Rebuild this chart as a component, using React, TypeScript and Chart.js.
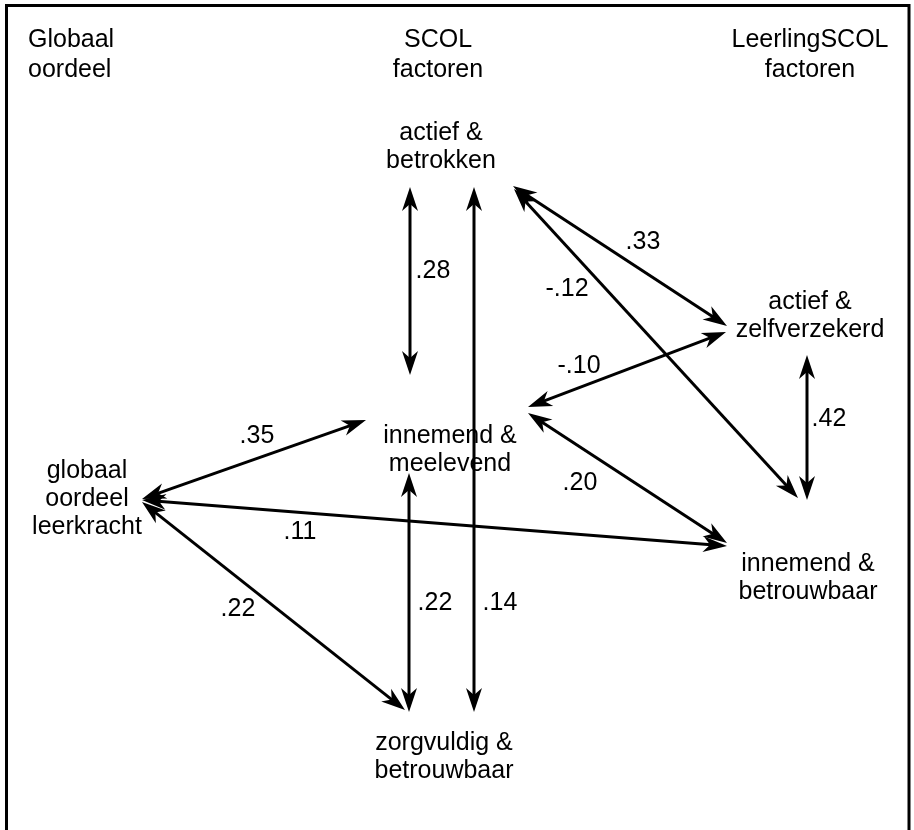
import React, { useEffect, useRef } from "react";
import { Chart, registerables } from "chart.js";

Chart.register(...registerables);

// Column headers
const headerLines: string[][] = [["Globaal", "oordeel"], ["SCOL", "factoren"], ["LeerlingSCOL", "factoren"]];
const headerX = [28, 438, 810];
const headerY = [40, 40, 40];
const headerAlign = ["left", "center", "center"];

// Nodes (factors)
const nodeLines: string[][] = [
  ["actief &", "betrokken"],
  ["actief &", "zelfverzekerd"],
  ["innemend &", "meelevend"],
  ["globaal", "oordeel", "leerkracht"],
  ["innemend &", "betrouwbaar"],
  ["zorgvuldig &", "betrouwbaar"],
];
const nodeX = [441, 810, 450, 87, 808, 444];
const nodeY = [133, 302, 436, 471, 564, 743];

// Correlation arrows (double headed)
const corrLabels = [".28", ".14", ".33", "-.12", "-.10", ".42", ".20", ".35", ".11", ".22", ".22"];
const arrowX1 = [410, 474, 513, 514, 528, 807, 528, 142, 142, 142, 409];
const arrowY1 = [187, 187, 186, 189, 407, 355, 413, 499, 500, 502, 473];
const arrowX2 = [410, 474, 727, 798, 726, 807, 727, 366, 727, 405, 409];
const arrowY2 = [375, 712, 326, 498, 332, 500, 543, 420, 546, 710, 712];
const labelX = [433, 500, 643, 567, 579, 829, 580, 257, 300, 238, 435];
const labelY = [271, 603, 242, 289, 366, 419, 483, 436, 532, 609, 603];

const FONT = '25px "Liberation Sans", Arial, sans-serif';
const LINE_H = 28;

function drawHead(ctx: CanvasRenderingContext2D, tx: number, ty: number, fx: number, fy: number) {
  const ang = Math.atan2(ty - fy, tx - fx);
  const L = 24, W = 8, N = 17;
  ctx.save();
  ctx.translate(tx, ty);
  ctx.rotate(ang);
  ctx.beginPath();
  ctx.moveTo(0, 0);
  ctx.lineTo(-L, -W);
  ctx.lineTo(-N, 0);
  ctx.lineTo(-L, W);
  ctx.closePath();
  ctx.fill();
  ctx.restore();
}

const diagramPlugin = {
  id: "diagram",
  afterDraw(chart: any) {
    const ctx: CanvasRenderingContext2D = chart.ctx;
    const xs = chart.scales.x;
    const ys = chart.scales.y;
    const px = (v: number) => xs.getPixelForValue(v);
    const py = (v: number) => ys.getPixelForValue(v);
    ctx.save();
    // frame
    ctx.strokeStyle = "#000";
    ctx.lineWidth = 3;
    ctx.strokeRect(px(6.5), py(5.5), px(909) - px(6.5), py(845) - py(5.5));

    // arrows
    ctx.fillStyle = "#000";
    ctx.lineWidth = 3;
    ctx.lineCap = "butt";
    for (let i = 0; i < corrLabels.length; i++) {
      const x1 = px(arrowX1[i]), y1 = py(arrowY1[i]);
      const x2 = px(arrowX2[i]), y2 = py(arrowY2[i]);
      const len = Math.hypot(x2 - x1, y2 - y1);
      const ux = (x2 - x1) / len, uy = (y2 - y1) / len;
      ctx.beginPath();
      ctx.moveTo(x1 + ux * 16, y1 + uy * 16);
      ctx.lineTo(x2 - ux * 16, y2 - uy * 16);
      ctx.stroke();
      drawHead(ctx, x1, y1, x2, y2);
      drawHead(ctx, x2, y2, x1, y1);
    }

    // text
    ctx.font = FONT;
    ctx.textBaseline = "middle";
    ctx.fillStyle = "#000";
    for (let i = 0; i < corrLabels.length; i++) {
      ctx.textAlign = "center";
      ctx.fillText(corrLabels[i], px(labelX[i]), py(labelY[i]));
    }
    for (let i = 0; i < headerLines.length; i++) {
      ctx.textAlign = headerAlign[i] as CanvasTextAlign;
      headerLines[i].forEach((t, j) => ctx.fillText(t, px(headerX[i]), py(headerY[i] + j * 30)));
    }
    for (let i = 0; i < nodeLines.length; i++) {
      ctx.textAlign = "center";
      nodeLines[i].forEach((t, j) => ctx.fillText(t, px(nodeX[i]), py(nodeY[i] + j * LINE_H)));
    }
    ctx.restore();
  },
};

export default function App() {
  const ref = useRef<HTMLCanvasElement | null>(null);
  useEffect(() => {
    if (!ref.current) return;
    const chart = new Chart(ref.current, {
      type: "scatter",
      data: {
        datasets: [
          {
            data: nodeX.map((x, i) => ({ x, y: nodeY[i] })),
            pointRadius: 0,
            showLine: false,
          },
        ],
      },
      options: {
        responsive: false,
        maintainAspectRatio: false,
        animation: false,
        layout: { padding: 0 },
        scales: {
          x: { type: "linear", min: 0, max: 914, display: false },
          y: { type: "linear", min: 0, max: 830, reverse: true, display: false },
        },
        plugins: { legend: { display: false }, tooltip: { enabled: false } },
        events: [],
      },
      plugins: [diagramPlugin],
    });
    return () => chart.destroy();
  }, []);
  return (
    <div style={{ position: "absolute", left: 0, top: 0, width: 914, height: 830, background: "#fff" }}>
      <canvas ref={ref} width={914} height={830} style={{ display: "block" }} />
    </div>
  );
}
